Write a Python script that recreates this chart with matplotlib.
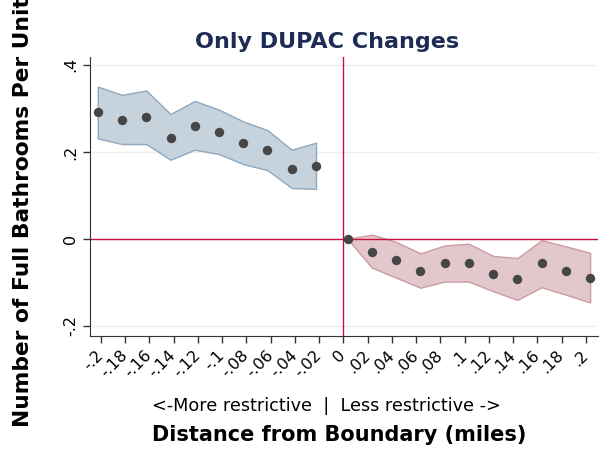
import numpy as np
import matplotlib.pyplot as plt

# binned estimates, restrictive side (left) and less restrictive side (right)
left_x = [-0.2026, -0.1826, -0.1626, -0.1426, -0.1226, -0.1026, -0.0826, -0.0626, -0.0426, -0.0226]
left_y = [0.291, 0.274, 0.280, 0.233, 0.260, 0.245, 0.220, 0.204, 0.161, 0.168]
left_hi = [0.350, 0.331, 0.341, 0.287, 0.317, 0.297, 0.270, 0.250, 0.205, 0.221]
left_lo = [0.231, 0.218, 0.218, 0.182, 0.205, 0.195, 0.172, 0.158, 0.117, 0.115]

right_x = [0.0035, 0.0235, 0.0435, 0.0635, 0.0835, 0.1035, 0.1235, 0.1435, 0.1635, 0.1835, 0.2035]
right_y = [0.0, -0.029, -0.049, -0.073, -0.056, -0.055, -0.080, -0.092, -0.056, -0.073, -0.089]
right_hi = [0.0, 0.010, -0.007, -0.033, -0.015, -0.011, -0.039, -0.044, -0.003, -0.017, -0.032]
right_lo = [0.0, -0.066, -0.089, -0.112, -0.098, -0.098, -0.120, -0.140, -0.111, -0.128, -0.146]

xticks = [-0.2, -0.18, -0.16, -0.14, -0.12, -0.1, -0.08, -0.06, -0.04, -0.02, 0,
          0.02, 0.04, 0.06, 0.08, 0.1, 0.12, 0.14, 0.16, 0.18, 0.2]
xtick_labels = ['-.2', '-.18', '-.16', '-.14', '-.12', '-.1', '-.08', '-.06', '-.04', '-.02', '0',
                '.02', '.04', '.06', '.08', '.1', '.12', '.14', '.16', '.18', '.2']
yticks = [-0.2, 0, 0.2, 0.4]
ytick_labels = ['-.2', '0', '.2', '.4']

fig = plt.figure(figsize=(6.01, 4.51), dpi=100)
ax = fig.add_axes([90 / 601, 1 - 336 / 451, 508 / 601, 279 / 451])

ax.set_xlim(-0.209, 0.210)
ax.set_ylim(-0.223, 0.418)

for t in yticks:
    ax.axhline(t, color='#eaf0f3', lw=1, zorder=0)

ax.fill_between(left_x, left_lo, left_hi, facecolor='#c6d2dc', edgecolor='#8fa8bf', lw=1, zorder=1)
ax.fill_between(right_x, right_lo, right_hi, facecolor='#e2c8cc', edgecolor='#cc9aa2', lw=1, zorder=1)

ax.axhline(0, color='#c8103f', lw=1, zorder=2)
ax.axvline(0, color='#c8103f', lw=1, zorder=2)

ax.scatter(left_x, left_y, s=46, color='#464646', zorder=3, lw=0)
ax.scatter(right_x, right_y, s=46, color='#464646', zorder=3, lw=0)

ax.set_xticks(xticks)
ax.set_xticklabels(xtick_labels, rotation=45, ha='right', va='center',
                   rotation_mode='anchor', fontsize=11.5)
ax.set_yticks(yticks)
ax.set_yticklabels(ytick_labels, rotation=90, va='center', fontsize=11.5)
ax.tick_params(length=5, color='#333333', width=1)
ax.tick_params(axis='x', pad=7)

for side in ['top', 'right']:
    ax.spines[side].set_visible(False)
for side in ['left', 'bottom']:
    ax.spines[side].set_color('#333333')

fig.text(327 / 601, 1 - 42 / 451, 'Only DUPAC Changes', ha='center', va='center',
         fontsize=16, fontweight='bold', color='#1e2b55')
fig.text(326.5 / 601, 1 - 406 / 451, '<-More restrictive  |  Less restrictive ->',
         ha='center', va='center', fontsize=12.7)
fig.text(339.5 / 601, 1 - 435 / 451, 'Distance from Boundary (miles)',
         ha='center', va='center', fontsize=15, fontweight='bold')
fig.text(23.5 / 601, 1 - 427 / 451, 'Number of Full Bathrooms Per Unit',
         ha='center', va='bottom', rotation=90, fontsize=15.7, fontweight='bold')

fig.savefig('out.png', dpi=100)
